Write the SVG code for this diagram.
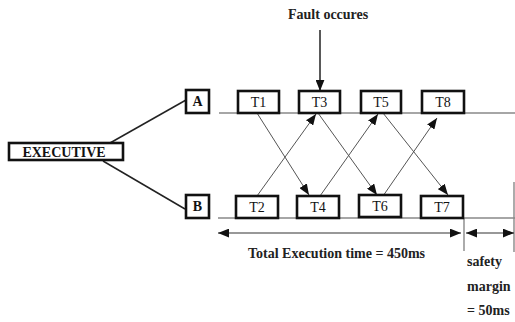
<svg xmlns="http://www.w3.org/2000/svg" width="515" height="322" viewBox="0 0 515 322">
  <style>
    .box { fill: #fff; stroke: #111; stroke-width: 2.6; }
    .lbl { font-family: "Liberation Serif", "Times New Roman", "DejaVu Serif", serif; font-size: 14px; fill: #111; text-anchor: middle; }
    .bold { font-weight: bold; }
    .note { font-family: "Liberation Serif", "Times New Roman", "DejaVu Serif", serif; font-size: 14px; font-weight: bold; fill: #222; }
    .timeline { stroke: #888; stroke-width: 1.4; fill: none; }
    .msg { stroke: #555; stroke-width: 1; fill: none; }
    .link { stroke: #222; stroke-width: 1.5; fill: none; }
    .dim { stroke: #333; stroke-width: 1.2; fill: none; }
  </style>
  <defs>
    <marker id="head" viewBox="0 0 10 8" refX="10" refY="4" markerWidth="11" markerHeight="9" markerUnits="userSpaceOnUse" orient="auto-start-reverse">
      <path d="M0,0 L10,4 L0,8 Z" fill="#111"/>
    </marker>
  </defs>

  <rect width="515" height="322" fill="#fff"/>

  <!-- time lines of the two processors and boundary ticks -->
  <g id="timelines">
    <line class="timeline" x1="219" y1="113" x2="515" y2="113"/>
    <line class="timeline" x1="218" y1="218" x2="515" y2="218"/>
    <line class="timeline" x1="464" y1="218" x2="464" y2="251"/>
    <line class="timeline" x1="514" y1="182" x2="514" y2="252"/>
  </g>

  <!-- connectors -->
  <g id="connectors">
    <line class="link" x1="110" y1="143" x2="186" y2="100"/>
    <line class="link" x1="103" y1="161" x2="185" y2="209"/>

    <line class="msg" x1="257" y1="113" x2="309" y2="195" marker-end="url(#head)"/>
    <line class="msg" x1="257" y1="196" x2="316" y2="114" marker-end="url(#head)"/>
    <line class="msg" x1="318" y1="113" x2="377" y2="195" marker-end="url(#head)"/>
    <line class="msg" x1="320" y1="196" x2="378" y2="114" marker-end="url(#head)"/>
    <line class="msg" x1="383" y1="113" x2="448" y2="195" marker-end="url(#head)"/>
    <line class="msg" x1="383" y1="196" x2="437" y2="118" marker-end="url(#head)"/>

    <line class="link" x1="320" y1="30" x2="320" y2="91" marker-end="url(#head)"/>

    <line class="dim" x1="218" y1="233" x2="461" y2="233" marker-start="url(#head)" marker-end="url(#head)"/>
    <line class="dim" x1="466" y1="233" x2="514" y2="233" marker-start="url(#head)" marker-end="url(#head)"/>
  </g>

  <g id="executive">
    <rect class="box" x="9" y="143" width="114" height="17"/>
    <text class="lbl bold" x="64" y="157" font-size="14.5">EXECUTIVE</text>
  </g>

  <g id="procA">
    <rect class="box" x="186" y="90" width="23" height="23"/>
    <text class="lbl bold" x="197.5" y="106">A</text>
  </g>
  <g id="procB">
    <rect class="box" x="186" y="195" width="23" height="23"/>
    <text class="lbl bold" x="197.5" y="211">B</text>
  </g>

  <g id="t1"><rect class="box" x="238" y="91" width="41" height="22"/><text class="lbl" x="258.5" y="107">T1</text></g>
  <g id="t3"><rect class="box" x="299" y="91" width="41" height="22"/><text class="lbl" x="319.5" y="107">T3</text></g>
  <g id="t5"><rect class="box" x="361" y="91" width="40" height="22"/><text class="lbl" x="381" y="107">T5</text></g>
  <g id="t8"><rect class="box" x="422" y="91" width="42" height="22"/><text class="lbl" x="443" y="107">T8</text></g>

  <g id="t2"><rect class="box" x="236" y="196" width="42" height="22"/><text class="lbl" x="257" y="212">T2</text></g>
  <g id="t4"><rect class="box" x="297" y="196" width="42" height="22"/><text class="lbl" x="318" y="212">T4</text></g>
  <g id="t6"><rect class="box" x="359" y="195" width="42" height="22"/><text class="lbl" x="380" y="211">T6</text></g>
  <g id="t7"><rect class="box" x="421" y="196" width="42" height="22"/><text class="lbl" x="442" y="212">T7</text></g>

  <g id="labels">
    <text class="note" x="288" y="19">Fault occures</text>
    <text class="note" x="248" y="258" font-size="14.6">Total Execution time = 450ms</text>
    <text class="note" x="467" y="266">safety</text>
    <text class="note" x="467" y="291">margin</text>
    <text class="note" x="467" y="315">= 50ms</text>
  </g>
</svg>
